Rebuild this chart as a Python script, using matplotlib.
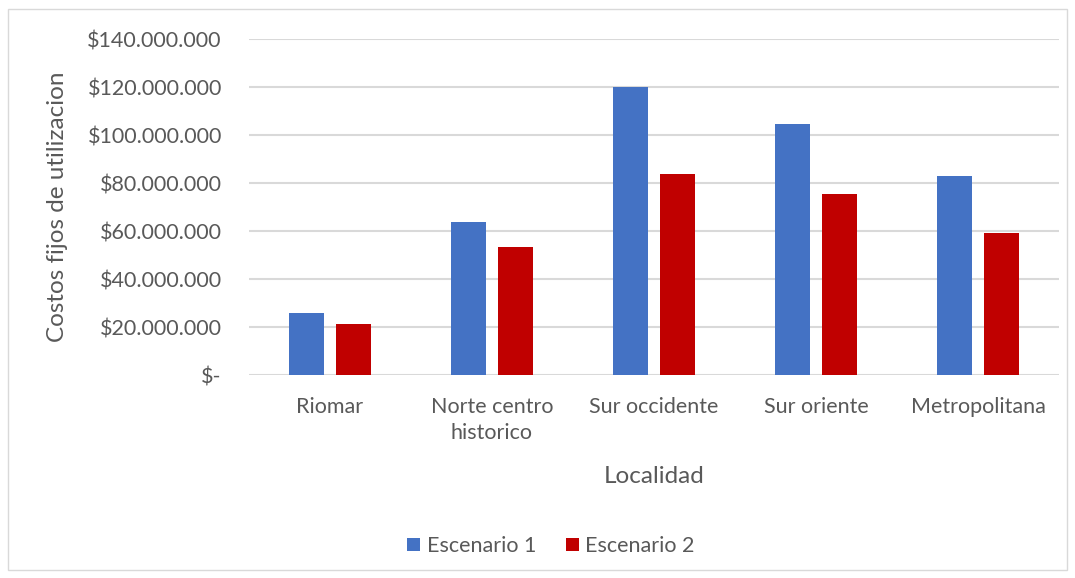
import numpy as np
import matplotlib.pyplot as plt
from matplotlib.patches import Rectangle
from matplotlib.ticker import FuncFormatter

# === Daten ===
localidades = ['Riomar', 'Norte centro\nhistorico', 'Sur occidente', 'Sur oriente', 'Metropolitana']
escenario_1 = [25.7e6, 63.7e6, 120.1e6, 104.5e6, 82.9e6]
escenario_2 = [21.4e6, 53.4e6, 83.7e6, 75.4e6, 59.3e6]
series_names = ['Escenario 1', 'Escenario 2']
y_ticks = [0, 20e6, 40e6, 60e6, 80e6, 100e6, 120e6, 140e6]

color_1 = '#4472C4'
color_2 = '#C00000'
text_col = '#595959'
grid_col = '#D9D9D9'

plt.rcParams['font.family'] = ['Lato', 'DejaVu Sans']

fig = plt.figure(figsize=(10.75, 5.78), dpi=100)
# Rahmen um das Diagramm
fig.patches.append(Rectangle((8 / 1075, 8 / 578), 1059 / 1075, 561 / 578,
                             transform=fig.transFigure, fill=False,
                             edgecolor='#D9D9D9', linewidth=1))

ax = fig.add_axes([249 / 1075, 1 - 375 / 578, 810 / 1075, 335.7 / 578])

x = np.arange(len(localidades))
w = 0.22
off = 0.144
ax.bar(x - off, escenario_1, w, color=color_1, label=series_names[0], zorder=3)
ax.bar(x + off, escenario_2, w, color=color_2, label=series_names[1], zorder=3)

ax.set_xlim(-0.5, len(localidades) - 0.5)
ax.set_ylim(0, 140e6)
ax.set_yticks(y_ticks)


def fmt(v, pos):
    if v == 0:
        return '$-'
    return '$' + f'{v:,.0f}'.replace(',', '.')


ax.yaxis.set_major_formatter(FuncFormatter(fmt))
ax.grid(axis='y', color=grid_col, linewidth=1.5, zorder=0)
for s in ax.spines.values():
    s.set_visible(False)
ax.tick_params(axis='both', length=0, colors=text_col, labelsize=15.5)
ax.tick_params(axis='y', pad=19.5)
ax.tick_params(axis='x', pad=16)
ax.set_xticks(x)
ax.set_xticklabels(localidades, linespacing=1.35)

ax.set_xlabel('Localidad', fontsize=17.5, color=text_col, labelpad=17)
ax.set_ylabel('Costos fijos de utilizacion', fontsize=17.5, color=text_col, labelpad=14)

ax.legend(loc='center', bbox_to_anchor=(551 / 1075, 1 - 546 / 578),
          bbox_transform=fig.transFigure, ncol=2, frameon=False,
          fontsize=15.5, labelcolor=text_col, handlelength=0.6, handleheight=0.6,
          handletextpad=0.3, columnspacing=1.4)

fig.savefig('out.png', dpi=100)
